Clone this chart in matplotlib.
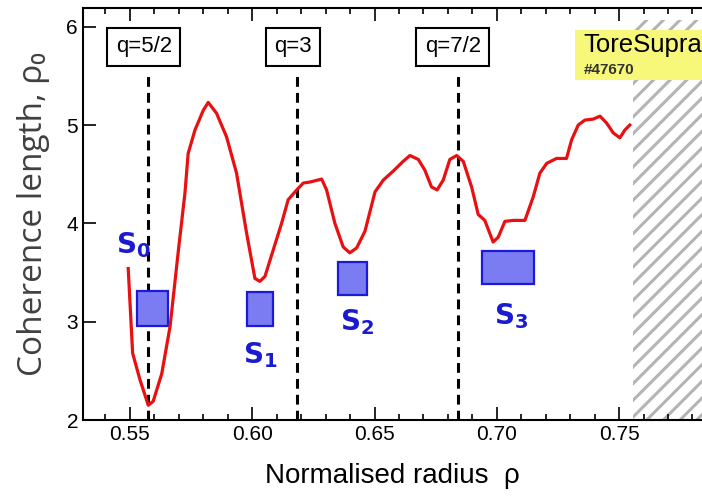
import numpy as np
import matplotlib
matplotlib.use('Agg')
from matplotlib import pyplot as plt
from matplotlib.patches import Rectangle

plt.rcParams['font.family'] = ['Liberation Sans', 'DejaVu Sans']
plt.rcParams['hatch.color'] = '#b4b4b4'
plt.rcParams['hatch.linewidth'] = 2.2

# coherence length profile
rho = [0.5493, 0.5511, 0.5541, 0.5575, 0.5595, 0.5630, 0.5664, 0.5697, 0.5725, 0.5738,
       0.5766, 0.5800, 0.5820, 0.5854, 0.5895, 0.5936, 0.5977, 0.6011, 0.6031, 0.6052,
       0.6086, 0.6120, 0.6147, 0.6182, 0.6209, 0.6236, 0.6284, 0.6304, 0.6338, 0.6372,
       0.6399, 0.6427, 0.6461, 0.6502, 0.6536, 0.6576, 0.6617, 0.6645, 0.6679, 0.6706,
       0.6733, 0.6756, 0.6781, 0.6808, 0.6836, 0.6863, 0.6897, 0.6924, 0.6951, 0.6985,
       0.7006, 0.7033, 0.7067, 0.7115, 0.7149, 0.7176, 0.7204, 0.7244, 0.7285, 0.7306,
       0.7333, 0.7360, 0.7394, 0.7422, 0.7449, 0.7476, 0.7503, 0.7524, 0.7544]
coh = [3.54, 2.68, 2.41, 2.15, 2.19, 2.47, 2.95, 3.70, 4.31, 4.71,
       4.95, 5.15, 5.23, 5.12, 4.88, 4.51, 3.90, 3.44, 3.41, 3.46,
       3.73, 4.00, 4.24, 4.34, 4.41, 4.42, 4.45, 4.34, 4.00, 3.76,
       3.70, 3.75, 3.92, 4.32, 4.44, 4.53, 4.63, 4.69, 4.65, 4.54,
       4.37, 4.34, 4.44, 4.65, 4.69, 4.63, 4.37, 4.09, 4.03, 3.81,
       3.86, 4.02, 4.03, 4.03, 4.27, 4.51, 4.61, 4.66, 4.66, 4.85,
       5.00, 5.05, 5.06, 5.09, 5.02, 4.92, 4.87, 4.95, 5.00]

# rational surfaces
q_labels = ['q=5/2', 'q=3', 'q=7/2']
q_rho = [0.5574, 0.6182, 0.6842]
q_box_rho = [0.5557, 0.6166, 0.6820]

# blue boxes S0..S3
s_names = ['0', '1', '2', '3']
s_x0 = [0.5527, 0.5977, 0.6349, 0.6940]
s_x1 = [0.5657, 0.6083, 0.6470, 0.7153]
s_y0 = [2.96, 2.96, 3.27, 3.38]
s_y1 = [3.315, 3.30, 3.604, 3.72]
s_lab_x = [0.5516, 0.6031, 0.6428, 0.7058]
s_lab_y = [3.78, 2.66, 3.00, 3.06]

fig = plt.figure(figsize=(7.02, 5.0), dpi=100)
ax = fig.add_axes([0.1182, 0.16, 0.8818, 0.824])

# hatched region at the edge
ax.add_patch(Rectangle((0.7557, 2.0), 0.05, 4.07, facecolor='white', edgecolor='#b4b4b4',
                       hatch='//', linewidth=0, zorder=1))

for q, r, rb in zip(q_labels, q_rho, q_box_rho):
    ax.plot([r, r], [2.0, 5.51], color='black', lw=2.2, dashes=(3.2, 2.0), zorder=2)
    ax.text(rb, 5.795, q, ha='center', va='center', fontsize=16, zorder=5,
            bbox=dict(boxstyle='square,pad=0.38', facecolor='white', edgecolor='black', lw=1.5))

for i in range(len(s_names)):
    ax.add_patch(Rectangle((s_x0[i], s_y0[i]), s_x1[i] - s_x0[i], s_y1[i] - s_y0[i],
                           facecolor='#7b7bf2', edgecolor='#1a1ad8', lw=1.6, zorder=3))
    ax.text(s_lab_x[i], s_lab_y[i], r'$\mathbf{S}_{\mathbf{%s}}$' % s_names[i],
            ha='center', va='center', fontsize=20, color='#1a1ad0', zorder=5)

ax.plot(rho, coh, color='#e81010', lw=2.3, zorder=4)

# shot label
ax.add_patch(Rectangle((0.7319, 5.46), 0.06, 0.51, facecolor='#f7f77a', edgecolor='none',
                       zorder=5, clip_on=False))
ax.text(0.7353, 5.815, 'ToreSupra', fontsize=18.5, ha='left', va='center', zorder=6)
ax.text(0.7356, 5.56, '#47670', fontsize=11, fontweight='bold', color='#333333',
        ha='left', va='center', zorder=6)

ax.set_xlim(0.5308, 0.7839)
ax.set_ylim(2.0, 6.19)
ax.set_xticks([0.55, 0.60, 0.65, 0.70, 0.75])
ax.set_xticklabels(['0.55', '0.60', '0.65', '0.70', '0.75'])
ax.set_xticks(np.arange(0.54, 0.785, 0.01), minor=True)
ax.set_yticks([2, 3, 4, 5, 6])
ax.tick_params(which='both', direction='in', top=True, right=False, labelsize=15, width=1.2)
ax.tick_params(which='major', length=9.5)
ax.tick_params(which='minor', length=4.5)
ax.spines['right'].set_visible(False)
for s in ['left', 'top', 'bottom']:
    ax.spines[s].set_linewidth(1.5)

ax.set_xlabel('Normalised radius  \u03c1', fontsize=20, labelpad=14)
ax.set_ylabel('Coherence length, \u03c1\u2080', fontsize=24, color='#404040',
              family=['Open Sans', 'DejaVu Sans'], labelpad=12)

fig.savefig('out.png', dpi=100)
